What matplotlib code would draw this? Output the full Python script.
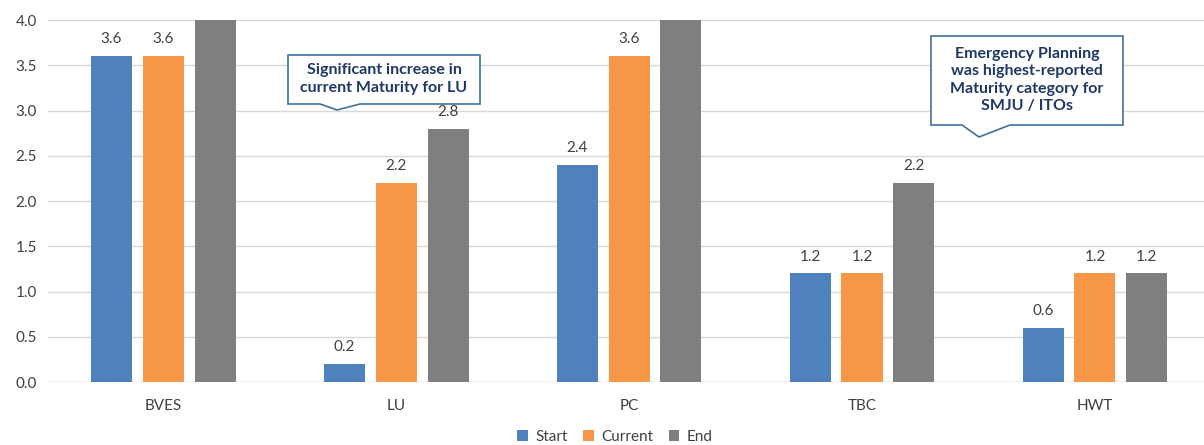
import matplotlib.pyplot as plt
import numpy as np
from matplotlib.patches import Polygon

plt.rcParams["font.family"] = ["Lato", "DejaVu Sans"]

categories = ["BVES", "LU", "PC", "TBC", "HWT"]
start = [3.6, 0.2, 2.4, 1.2, 0.6]
current = [3.6, 2.2, 3.6, 1.2, 1.2]
end = [4.0, 2.8, 4.0, 2.2, 1.2]
series_names = ["Start", "Current", "End"]
colors = ["#4F81BD", "#F79646", "#7F7F7F"]

W, H = 1204, 445
fig = plt.figure(figsize=(W / 100, H / 100), dpi=100)
ax = fig.add_axes([48 / W, 1 - 382 / H, (W - 48) / W, 362 / H])

x = np.arange(len(categories))
bw = 0.176
step = 0.223
txt = "#404040"
for i, (vals, name, c) in enumerate(zip([start, current, end], series_names, colors)):
    pos = x + (i - 1) * step
    ax.bar(pos, vals, bw, color=c, label=name, zorder=3)
    for p, v in zip(pos, vals):
        if v < 4.0:
            ax.annotate(f"{v:.1f}", (p, v), xytext=(0, 7), textcoords="offset points",
                        ha="center", va="bottom", fontsize=11, color=txt)

ax.set_xlim(-0.494, 4.468)
ax.set_ylim(0, 4.0)
ax.set_yticks(np.arange(0, 4.01, 0.5))
ax.set_yticklabels([f"{t:.1f}" for t in np.arange(0, 4.01, 0.5)])
ax.set_xticks(x)
ax.set_xticklabels(categories)
ax.tick_params(axis="both", length=0, labelsize=11, colors=txt)
ax.tick_params(axis="x", pad=12)
ax.tick_params(axis="y", pad=8)
ax.grid(axis="y", color="#D9D9D9", linewidth=1, zorder=0)
for s in ax.spines.values():
    s.set_visible(False)
ax.axhline(0, color="#D9D9D9", linewidth=1, zorder=1)

ax.legend(loc="center", bbox_to_anchor=(615 / W, 1 - 437 / H), bbox_transform=fig.transFigure,
          ncol=3, frameon=False, fontsize=11, handlelength=0.7, handleheight=0.7,
          handletextpad=0.5, columnspacing=1.0, labelcolor=txt)


def callout(pts, text, cx, cy):
    poly = Polygon([(px / W, 1 - py / H) for px, py in pts], closed=True,
                   transform=fig.transFigure, facecolor="white", edgecolor="#41719C",
                   linewidth=1.2, zorder=10)
    fig.patches.append(poly)
    fig.text(cx / W, 1 - cy / H, text, ha="center", va="center", fontsize=11.5,
             fontweight="bold", color="#1F3864", linespacing=1.3, zorder=11)


callout([(288, 55), (480, 55), (480, 104), (360, 104), (337, 110), (320, 104), (288, 104)],
        "Significant increase in\ncurrent Maturity for LU", 384, 79)
callout([(931, 36), (1123, 36), (1123, 125), (1010, 125), (979, 137), (962, 125), (931, 125)],
        "Emergency Planning\nwas highest-reported\nMaturity category for\nSMJU / ITOs", 1027, 80)

plt.savefig("out.png", dpi=100)
